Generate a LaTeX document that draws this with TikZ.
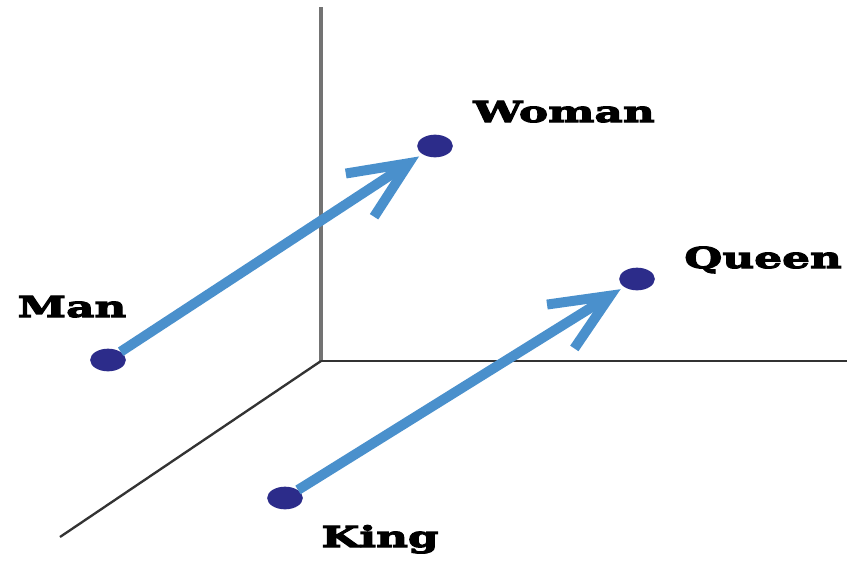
\documentclass[tikz,border=0pt]{standalone}
\usepackage{fontspec}
\usepackage{tikz}
\usetikzlibrary{arrows.meta,shapes.geometric}
\newfontfamily\wordfont[FakeStretch=1.52,FakeBold=4]{DejaVu Serif}
\definecolor{vecblue}{RGB}{74,144,204}
\definecolor{dotblue}{RGB}{44,44,138}

\begin{document}
\begin{tikzpicture}[
  x=0.03cm, y=-0.03cm,
  word/.style={font=\wordfont\bfseries\fontsize{24.6}{28}\selectfont,
               anchor=base, inner sep=0pt},
  pt/.style={ellipse, fill=dotblue, inner sep=0pt,
             minimum width=1.07cm, minimum height=0.68cm},
  ax/.style={draw=black!80, line width=2pt},
  vax/.style={draw=black!55, line width=3.2pt},
  vec/.style={draw=vecblue, line width=8.5pt,
              -{Straight Barb[length=1.75cm,width=1.55cm]}, shorten >=0.12cm},
]
\useasboundingbox (0,0) rectangle (849,560);
\coordinate (o) at (321,361);
\coordinate (ytop) at (321,7);
\coordinate (xend) at (847,361);
\coordinate (zend) at (60,537);
\draw[vax] (o) -- (ytop);
\draw[ax] (o) -- (xend);
\draw[ax] (o) -- (zend);
\node[pt] (man) at (108,360) {};
\node[pt] (woman) at (435,146) {};
\node[pt] (queen) at (637,279) {};
\node[pt] (king) at (285,498) {};
\draw[vec] (man) -- (woman);
\draw[vec] (king) -- (queen);
\node[word] (manlbl) at (72,317) {Man};
\node[word] (womanlbl) at (564,122) {Woman};
\node[word] (queenlbl) at (763,268) {Queen};
\node[word] (kinglbl) at (380,547) {King};
\end{tikzpicture}
\end{document}
